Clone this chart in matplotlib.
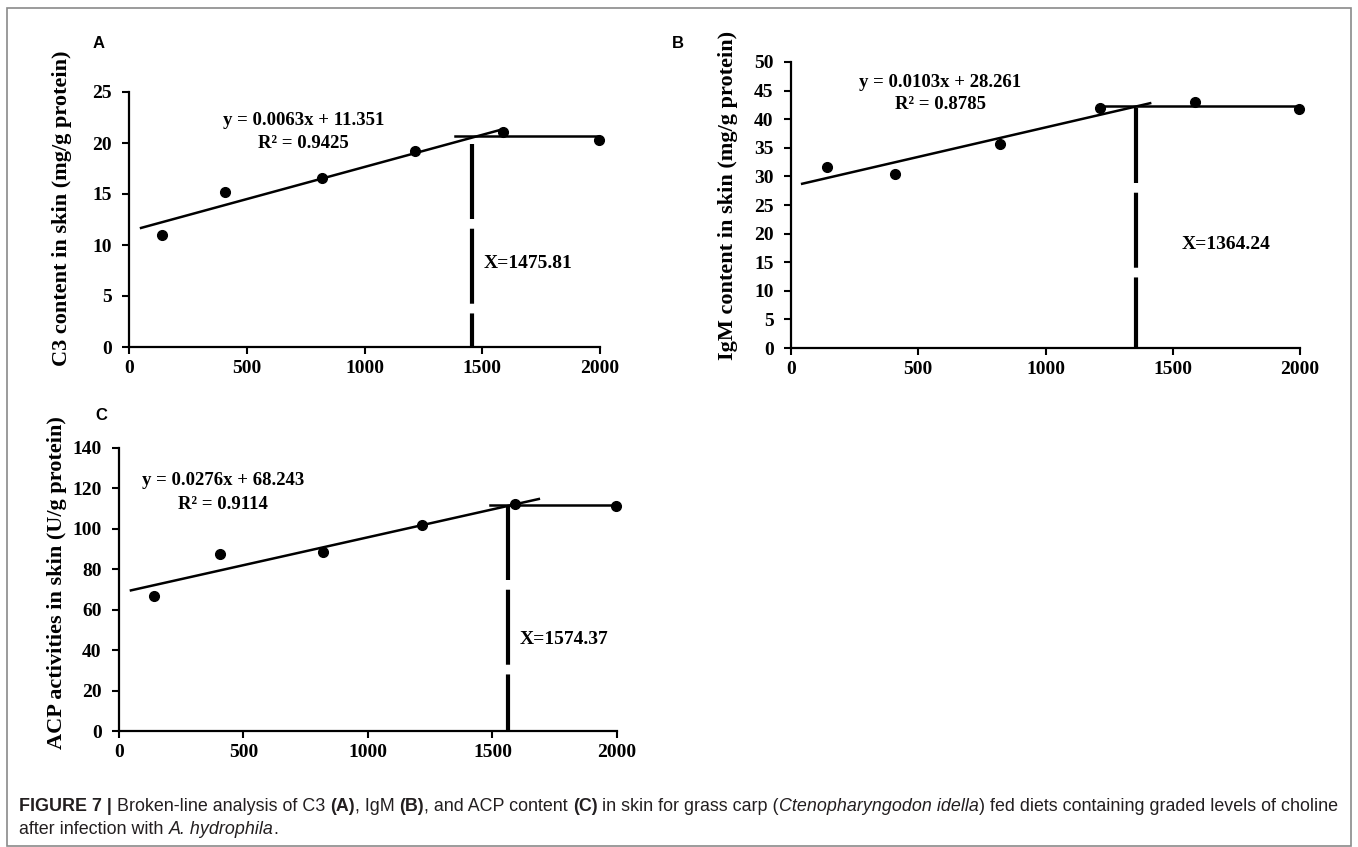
import matplotlib
matplotlib.use("Agg")
import matplotlib.pyplot as plt
from matplotlib import font_manager
from matplotlib.patches import Rectangle

# ---------------- data ----------------
choline = [142, 407, 821, 1215, 1589, 1996]
c3_values = [10.95, 15.2, 16.6, 19.2, 21.05, 20.3]
igm_values = [31.6, 30.5, 35.6, 41.9, 43.0, 41.8]
acp_values = [66.9, 87.8, 88.6, 101.7, 112.2, 111.3]

# regression: slope, intercept, x-range of drawn segment
c3_fit = (0.0063, 11.351)
igm_fit = (0.0103, 28.261)
acp_fit = (0.0276, 68.243)
c3_fit_range = (46, 1597)
igm_fit_range = (39, 1416)
acp_fit_range = (43, 1691)

# plateau: level, x-range
c3_plateau = (20.65, 1385, 2000)
igm_plateau = (42.35, 1212, 2000)
acp_plateau = (111.8, 1488, 2000)

# break-point dashed line (x, top)
c3_break = (1455, 19.9)
igm_break = (1357, 42.0)
acp_break = (1563, 112.0)

c3_eq = ["y = 0.0063x + 11.351", "R² = 0.9425"]
igm_eq = ["y = 0.0103x + 28.261", "R² = 0.8785"]
acp_eq = ["y = 0.0276x + 68.243", "R² = 0.9114"]
c3_xlabel_txt = "X=1475.81"
igm_xlabel_txt = "X=1364.24"
acp_xlabel_txt = "X=1574.37"

ylabels = ["C3 content in skin (mg/g protein)",
           "IgM content in skin (mg/g protein)",
           "ACP activities in skin (U/g protein)"]
panel_letters = ["A", "B", "C"]
xticks = [0, 500, 1000, 1500, 2000]

# ---------------- figure ----------------
W, H = 1358, 847
fig = plt.figure(figsize=(W / 100, H / 100), dpi=100)
fig.patch.set_facecolor("white")

names = {f.name for f in font_manager.fontManager.ttflist}
SERIF = "Liberation Serif"
SANS = "Liberation Sans"
CAP = "Liberation Sans Narrow" if "Liberation Sans Narrow" in names else "Liberation Sans"


def px_axes(l, t, r, b):
    return fig.add_axes([l / W, 1 - b / H, (r - l) / W, (b - t) / H])


def style_axes(ax, ymax, ystep):
    ax.set_xlim(0, 2000)
    ax.set_ylim(0, ymax)
    ax.set_xticks(xticks)
    ax.set_yticks(list(range(0, ymax + 1, ystep)))
    for s in ("top", "right"):
        ax.spines[s].set_visible(False)
    for s in ("left", "bottom"):
        ax.spines[s].set_linewidth(1.6)
        ax.spines[s].set_color("black")
    ax.tick_params(direction="out", length=5, width=1.5, labelsize=14)
    ax.tick_params(axis="y", pad=7.5)
    ax.tick_params(axis="x", pad=4)
    for lab in ax.get_xticklabels() + ax.get_yticklabels():
        lab.set_fontfamily(SERIF)
        lab.set_fontweight("bold")
    ax.patch.set_alpha(0)


def panel(ax, y, fit, fit_range, plateau, brk, eq, eq_pos, xl_txt, xl_pos):
    ax.plot(choline, y, "o", color="black", markersize=7, zorder=4, clip_on=False)
    x0, x1 = fit_range
    ax.plot([x0, x1], [fit[0] * x0 + fit[1], fit[0] * x1 + fit[1]],
            color="black", lw=1.8, solid_capstyle="butt")
    lvl, p0, p1 = plateau
    ax.plot([p0, p1], [lvl, lvl], color="black", lw=1.8)
    bx, btop = brk
    ln, = ax.plot([bx, bx], [btop, 0], color="black", lw=3.0)
    ln.set_dashes((54, 7))
    ex, ey1, ey2 = eq_pos
    ax.text(ex, ey1, eq[0], ha="center", va="center", fontsize=13.5,
            fontfamily=SERIF, fontweight="bold")
    ax.text(ex, ey2, eq[1], ha="center", va="center", fontsize=13.5,
            fontfamily=SERIF, fontweight="bold")
    ax.text(xl_pos[0], xl_pos[1], xl_txt, ha="left", va="center", fontsize=14,
            fontfamily=SERIF, fontweight="bold")


plt.rcParams["lines.scale_dashes"] = False

axA = px_axes(129, 92, 600, 347)
style_axes(axA, 25, 5)
panel(axA, c3_values, c3_fit, c3_fit_range, c3_plateau, c3_break,
      c3_eq, (740, 22.16, 20.0), c3_xlabel_txt, (1505, 8.2))

axB = px_axes(791, 62, 1300, 348)
style_axes(axB, 50, 5)
panel(axB, igm_values, igm_fit, igm_fit_range, igm_plateau, igm_break,
      igm_eq, (587, 46.5, 42.6), igm_xlabel_txt, (1536, 18.1))

axC = px_axes(119, 448, 617, 731)
style_axes(axC, 140, 20)
panel(axC, acp_values, acp_fit, acp_fit_range, acp_plateau, acp_break,
      acp_eq, (419, 123.8, 112.2), acp_xlabel_txt, (1610, 45.2))

# y labels
for txt, (x, y) in zip(ylabels, [(62, 208), (728, 195), (57, 583)]):
    fig.text(x / W, 1 - y / H, txt, rotation=90, ha="center", va="center",
             fontsize=16, fontfamily=SERIF, fontweight="bold")

# panel letters
for txt, (x, y) in zip(panel_letters, [(99, 43), (678, 43), (101, 415)]):
    fig.text(x / W, 1 - y / H, txt, ha="center", va="center",
             fontsize=12, fontfamily=SANS, fontweight="bold")

# border
fig.patches.append(Rectangle((7 / W, 1 - 846 / H), (1351 - 7) / W, (846 - 8) / H,
                             transform=fig.transFigure, fill=False,
                             edgecolor="#8a8a8a", lw=1.2))

# ---------------- caption ----------------
line1 = [("FIGURE 7 | ", "bold", "normal"),
         ("Broken-line analysis of C3 ", "normal", "normal"),
         ("(A)", "bold", "normal"),
         (", IgM ", "normal", "normal"),
         ("(B)", "bold", "normal"),
         (", and ACP content ", "normal", "normal"),
         ("(C)", "bold", "normal"),
         (" in skin for grass carp (", "normal", "normal"),
         ("Ctenopharyngodon idella", "normal", "italic"),
         (") fed diets containing graded levels of choline", "normal", "normal")]
line2 = [("after infection with ", "normal", "normal"),
         ("A. hydrophila", "normal", "italic"),
         (".", "normal", "normal")]

fig.canvas.draw()
renderer = fig.canvas.get_renderer()


def piece_width(txt, size, weight, style):
    def w(s):
        t = fig.text(0, 0, s, fontsize=size, fontfamily=CAP, fontweight=weight,
                     fontstyle=style)
        bb = t.get_window_extent(renderer)
        t.remove()
        return bb.width
    return w(txt + "x") - w("x")


base = 10
total = sum(piece_width(t, base, wt, st) for t, wt, st in line1)
cap_size = base * (1338 - 19) / total


def draw_line(pieces, x0, y0):
    x = x0
    for t, wt, st in pieces:
        fig.text(x / W, 1 - y0 / H, t, fontsize=cap_size, fontfamily=CAP,
                 fontweight=wt, fontstyle=st, ha="left", va="center",
                 color="#231f20")
        x += piece_width(t, cap_size, wt, st)


draw_line(line1, 19, 806)
draw_line(line2, 19, 829)

fig.savefig("out.png", dpi=100, facecolor="white")
